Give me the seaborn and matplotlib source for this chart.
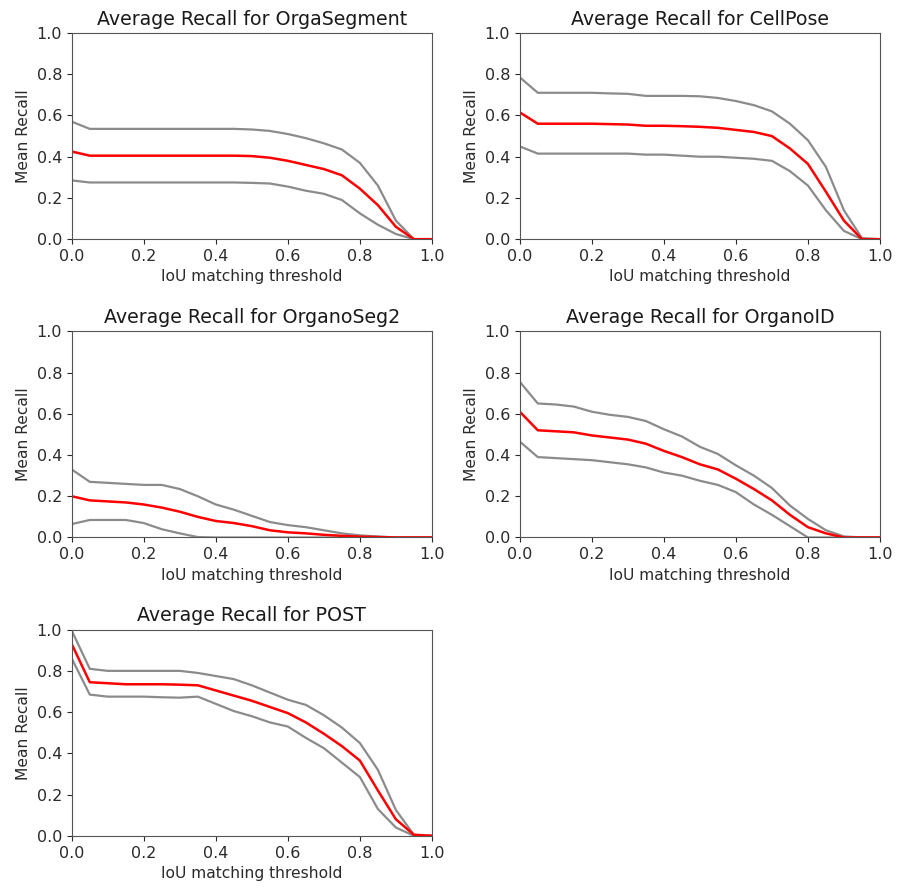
import numpy as np
import pandas as pd
import matplotlib
matplotlib.use("Agg")
import matplotlib.pyplot as plt
import seaborn as sns

thresholds = [0.0, 0.05, 0.1, 0.15, 0.2, 0.25, 0.3, 0.35, 0.4, 0.45, 0.5,
              0.55, 0.6, 0.65, 0.7, 0.75, 0.8, 0.85, 0.9, 0.95, 1.0]

models = ["OrgaSegment", "CellPose", "OrganoSeg2", "OrganoID", "POST"]

orgasegment_mean = [0.425, 0.405, 0.405, 0.405, 0.405, 0.405, 0.405, 0.405, 0.405, 0.405, 0.403,
                    0.395, 0.38, 0.36, 0.34, 0.31, 0.245, 0.165, 0.06, 0.0, 0.0]
orgasegment_upper = [0.57, 0.535, 0.535, 0.535, 0.535, 0.535, 0.535, 0.535, 0.535, 0.535, 0.532,
                     0.525, 0.51, 0.49, 0.465, 0.435, 0.37, 0.26, 0.09, 0.0, 0.0]
orgasegment_lower = [0.285, 0.275, 0.275, 0.275, 0.275, 0.275, 0.275, 0.275, 0.275, 0.275, 0.273,
                     0.27, 0.255, 0.235, 0.22, 0.19, 0.125, 0.07, 0.025, 0.0, 0.0]

cellpose_mean = [0.615, 0.56, 0.56, 0.56, 0.56, 0.558, 0.556, 0.55, 0.55, 0.548, 0.545,
                 0.54, 0.53, 0.52, 0.50, 0.44, 0.365, 0.23, 0.09, 0.0, 0.0]
cellpose_upper = [0.785, 0.71, 0.71, 0.71, 0.71, 0.707, 0.705, 0.695, 0.695, 0.695, 0.693,
                  0.685, 0.67, 0.65, 0.62, 0.56, 0.48, 0.35, 0.14, 0.005, 0.0]
cellpose_lower = [0.45, 0.415, 0.415, 0.415, 0.415, 0.415, 0.415, 0.41, 0.41, 0.405, 0.40,
                  0.40, 0.395, 0.39, 0.38, 0.33, 0.26, 0.14, 0.04, 0.0, 0.0]

organoseg2_mean = [0.20, 0.18, 0.175, 0.17, 0.16, 0.145, 0.125, 0.10, 0.08, 0.07, 0.055,
                   0.035, 0.025, 0.02, 0.013, 0.008, 0.004, 0.002, 0.0, 0.0, 0.0]
organoseg2_upper = [0.33, 0.27, 0.265, 0.26, 0.255, 0.255, 0.235, 0.20, 0.16, 0.135, 0.105,
                    0.075, 0.06, 0.05, 0.035, 0.02, 0.01, 0.005, 0.0, 0.0, 0.0]
organoseg2_lower = [0.065, 0.085, 0.085, 0.085, 0.07, 0.04, 0.02, 0.002, 0.0, 0.0, 0.0,
                    0.0, 0.0, 0.0, 0.0, 0.0, 0.0, 0.0, 0.0, 0.0, 0.0]

organoid_mean = [0.61, 0.52, 0.515, 0.51, 0.495, 0.485, 0.475, 0.455, 0.42, 0.39, 0.355,
                 0.33, 0.285, 0.235, 0.18, 0.11, 0.05, 0.02, 0.0, 0.0, 0.0]
organoid_upper = [0.755, 0.65, 0.645, 0.635, 0.61, 0.595, 0.585, 0.565, 0.525, 0.49, 0.44,
                  0.405, 0.35, 0.30, 0.24, 0.155, 0.09, 0.035, 0.005, 0.0, 0.0]
organoid_lower = [0.465, 0.39, 0.385, 0.38, 0.375, 0.365, 0.355, 0.34, 0.315, 0.30, 0.275,
                  0.255, 0.22, 0.16, 0.11, 0.055, 0.0, 0.0, 0.0, 0.0, 0.0]

post_mean = [0.93, 0.745, 0.74, 0.735, 0.735, 0.735, 0.733, 0.73, 0.705, 0.68, 0.655,
             0.625, 0.595, 0.55, 0.495, 0.435, 0.365, 0.22, 0.08, 0.005, 0.0]
post_upper = [0.995, 0.81, 0.80, 0.80, 0.80, 0.80, 0.80, 0.79, 0.775, 0.76, 0.73,
              0.695, 0.66, 0.635, 0.585, 0.525, 0.45, 0.32, 0.125, 0.005, 0.0]
post_lower = [0.86, 0.685, 0.675, 0.675, 0.675, 0.672, 0.67, 0.675, 0.64, 0.605, 0.58,
              0.55, 0.53, 0.475, 0.425, 0.355, 0.285, 0.13, 0.04, 0.0, 0.0]

series = {
    "OrgaSegment": (orgasegment_mean, orgasegment_upper, orgasegment_lower),
    "CellPose": (cellpose_mean, cellpose_upper, cellpose_lower),
    "OrganoSeg2": (organoseg2_mean, organoseg2_upper, organoseg2_lower),
    "OrganoID": (organoid_mean, organoid_upper, organoid_lower),
    "POST": (post_mean, post_upper, post_lower),
}

plt.rcParams["font.family"] = ["DejaVu Sans"]
fig, axes = plt.subplots(3, 2, figsize=(8.97, 8.92), dpi=100)
fig.subplots_adjust(left=0.080, right=0.981, top=0.963, bottom=0.063,
                    wspace=0.244, hspace=0.447)
axes = axes.ravel()

for ax, name in zip(axes, models):
    mean, upper, lower = series[name]
    df = pd.DataFrame({"t": thresholds, "mean": mean, "upper": upper, "lower": lower})
    sns.lineplot(data=df, x="t", y="upper", ax=ax, color="#7f7f7f", lw=1.6, alpha=0.9)
    sns.lineplot(data=df, x="t", y="lower", ax=ax, color="#7f7f7f", lw=1.6, alpha=0.9)
    sns.lineplot(data=df, x="t", y="mean", ax=ax, color="red", lw=1.8)
    ax.set_xlim(0, 1)
    ax.set_ylim(0, 1)
    ax.set_xticks([0, 0.2, 0.4, 0.6, 0.8, 1.0])
    ax.set_yticks([0, 0.2, 0.4, 0.6, 0.8, 1.0])
    ax.tick_params(labelsize=11.5, colors="#2a2a2a")
    ax.set_title(f"Average Recall for {name}", fontsize=13.7, color="#1a1a1a")
    ax.set_xlabel("IoU matching threshold", fontsize=11.2, color="#2a2a2a")
    ax.set_ylabel("Mean Recall", fontsize=11.2, color="#2a2a2a")
    for s in ax.spines.values():
        s.set_color("#555555")

axes[5].remove()
fig.savefig("out.png", dpi=100)
